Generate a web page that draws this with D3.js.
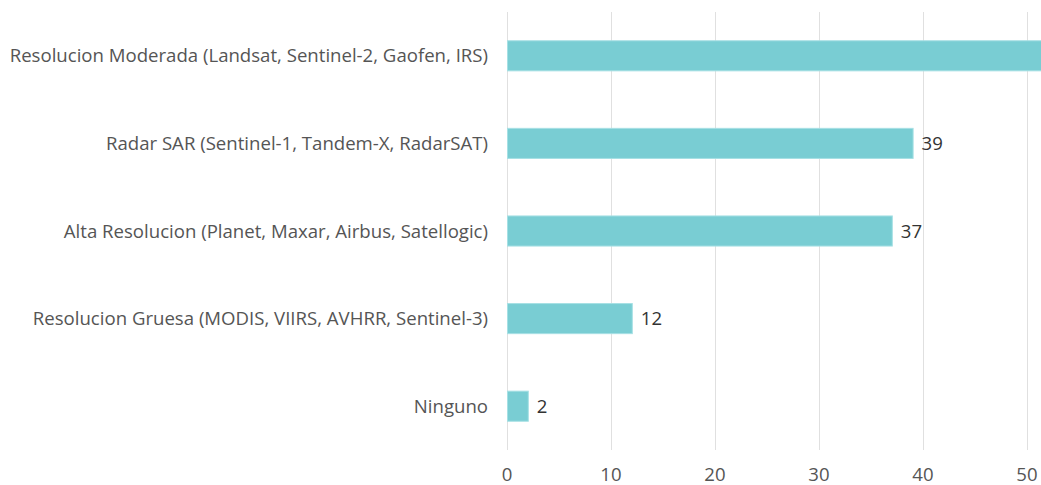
<!DOCTYPE html>
<html><head><meta charset="utf-8">
<script src="https://cdn.jsdelivr.net/npm/d3@7"></script>
<style>body{margin:0;background:#fff;} text{font-family:"Open Sans",sans-serif;}</style>
</head><body>
<svg id="c" width="1041" height="485"></svg>
<script>
const categories = [
  "Resolucion Moderada (Landsat, Sentinel-2, Gaofen, IRS)",
  "Radar SAR (Sentinel-1, Tandem-X, RadarSAT)",
  "Alta Resolucion (Planet, Maxar, Airbus, Satellogic)",
  "Resolucion Gruesa (MODIS, VIIRS, AVHRR, Sentinel-3)",
  "Ninguno"
];
const values = [56, 39, 37, 12, 2];
const tickValues = [0, 10, 20, 30, 40, 50];

const W = 1041;
const svg = d3.select("#c");
const x0 = 507, y0 = 12, y1 = 450;
const x = d3.scaleLinear().domain([0, 50]).range([x0, x0 + 520]);
const y = d3.scaleBand().domain(categories).range([y0, y1]).paddingInner(0.645).paddingOuter(0.3225);
const fs = 18.6;

// grid
svg.append("g").selectAll("line").data(tickValues).join("line")
  .attr("x1", d => Math.round(x(d)) + 0.5).attr("x2", d => Math.round(x(d)) + 0.5)
  .attr("y1", y0).attr("y2", y1)
  .attr("stroke", "#e0e0e0").attr("stroke-width", 1);

// x tick labels
svg.append("g").selectAll("text").data(tickValues).join("text")
  .attr("x", d => x(d)).attr("y", 481)
  .attr("text-anchor", "middle")
  .attr("font-size", fs).attr("fill", "#555")
  .text(d => d);

// bars
svg.append("g").selectAll("rect").data(values).join("rect")
  .attr("x", x(0) + 0.5)
  .attr("y", (d, i) => y(categories[i]) + 0.5)
  .attr("width", d => x(d) - x(0))
  .attr("height", y.bandwidth() - 1)
  .attr("fill", "#79cdd3").attr("stroke", "#a6e0e4").attr("stroke-width", 1);

// value labels (only those that fall inside the canvas, as in the reference)
const shown = values.map((v, i) => ({v, i})).filter(d => x(d.v) + 40 < W);
svg.append("g").selectAll("text").data(shown).join("text")
  .attr("x", d => x(d.v) + 9)
  .attr("y", d => y(categories[d.i]) + y.bandwidth() / 2)
  .attr("dy", "0.36em")
  .attr("font-size", fs).attr("fill", "#333")
  .text(d => d.v);

// category labels
svg.append("g").selectAll("text").data(categories).join("text")
  .attr("x", 488)
  .attr("y", d => y(d) + y.bandwidth() / 2)
  .attr("dy", "0.36em")
  .attr("text-anchor", "end")
  .attr("font-size", fs).attr("fill", "#555")
  .text(d => d);
</script>
</body></html>
